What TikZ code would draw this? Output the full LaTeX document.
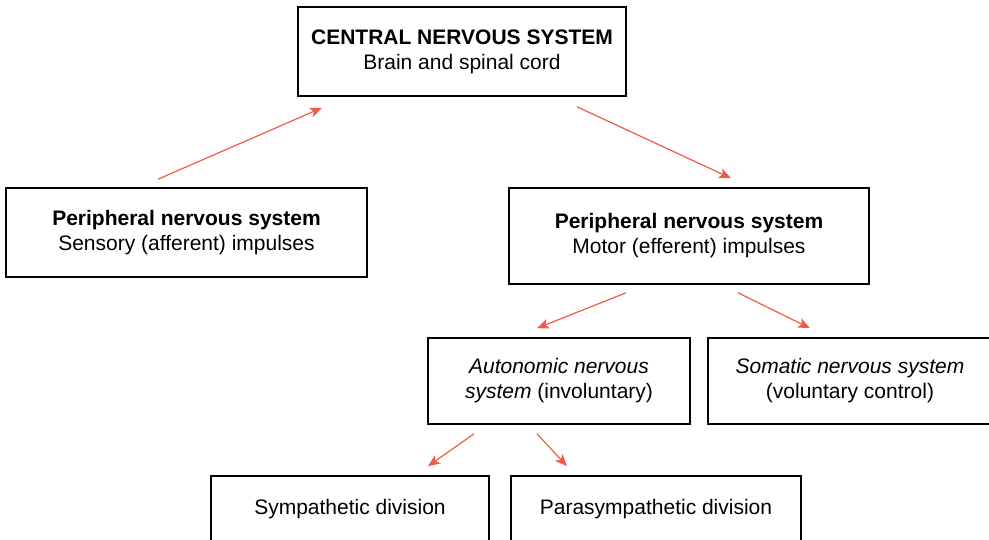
\documentclass[tikz,border=0pt]{standalone}
\usepackage{fontspec}
\setmainfont{Liberation Sans}
\usetikzlibrary{arrows.meta,positioning}
\definecolor{nervered}{RGB}{238,92,70}

\begin{document}
\begin{tikzpicture}[x=1pt,y=-1pt,on grid,
    box/.style={draw,line width=1.6pt,align=center,inner sep=0pt,
      font=\fontsize{21}{25}\selectfont},
    link/.style={nervered,line width=1.2pt,
      -{Stealth[length=12pt,width=10pt,inset=3pt]}}]
  \useasboundingbox (0,0) rectangle (989,540);
  \node[box,minimum width=328pt,minimum height=89pt](cns) at (462,51.5)
    {\textbf{CENTRAL NERVOUS SYSTEM}\\Brain and spinal cord};
  \node[box,minimum width=361pt,minimum height=89pt](sens)
    [below left=181pt and 275.5pt of cns]
    {\textbf{Peripheral nervous system}\\Sensory (afferent) impulses};
  \node[box,minimum width=360pt,minimum height=96pt](motor)
    [below right=184.5pt and 227pt of cns]
    {\textbf{Peripheral nervous system}\\Motor (efferent) impulses};
  \node[box,minimum width=262pt,minimum height=86pt](auto)
    [below left=145pt and 130pt of motor]
    {\textit{Autonomic nervous}\\\textit{system} (involuntary)};
  \node[box,minimum width=284pt,minimum height=86pt](soma)
    [right=291pt of auto]
    {\textit{Somatic nervous system}\\(voluntary control)};
  \node[box,minimum width=278pt,minimum height=66pt](symp)
    [below left=128pt and 209pt of auto]
    {Sympathetic division};
  \node[box,minimum width=290pt,minimum height=66pt](para)
    [right=306pt of symp]
    {Parasympathetic division};
  \draw[link] ([shift={(-28.5pt,8pt)}]sens.north)
    -- ([shift={(-140pt,-11pt)}]cns.south);
  \draw[link] ([shift={(115pt,-10pt)}]cns.south)
    -- ([shift={(42pt,9pt)}]motor.north);
  \draw[link] ([shift={(-63pt,-8pt)}]motor.south)
    -- ([shift={(-22pt,9pt)}]auto.north);
  \draw[link] ([shift={(49pt,-8pt)}]motor.south)
    -- ([shift={(-40pt,9pt)}]soma.north);
  \draw[link] ([shift={(-85pt,-9pt)}]auto.south)
    -- ([shift={(78pt,9pt)}]symp.north);
  \draw[link] ([shift={(-22pt,-9pt)}]auto.south)
    -- ([shift={(-89pt,9pt)}]para.north);
\end{tikzpicture}
\end{document}
